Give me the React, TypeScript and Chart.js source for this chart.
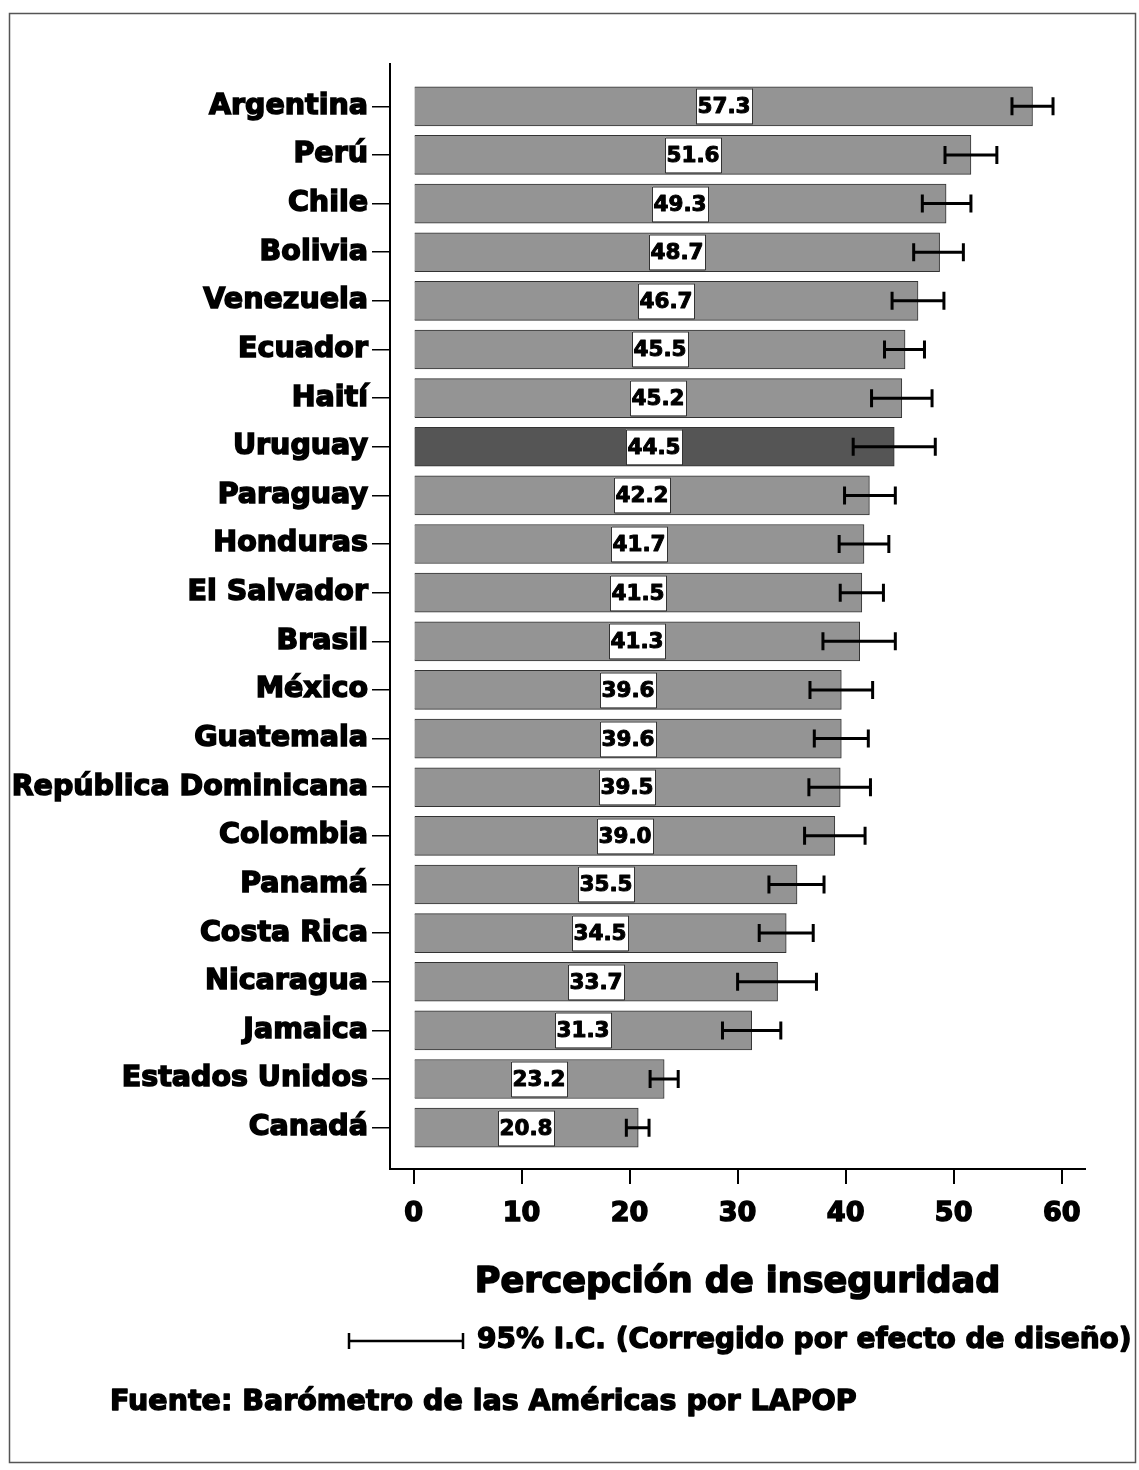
import React, { useEffect, useRef } from 'react';
import { Chart, registerables } from 'chart.js';

Chart.register(...registerables);

// Percepción de inseguridad por país, con intervalos de confianza al 95%
const countries = [
  'Argentina', 'Perú', 'Chile', 'Bolivia', 'Venezuela', 'Ecuador', 'Haití', 'Uruguay',
  'Paraguay', 'Honduras', 'El Salvador', 'Brasil', 'México', 'Guatemala',
  'República Dominicana', 'Colombia', 'Panamá', 'Costa Rica', 'Nicaragua', 'Jamaica',
  'Estados Unidos', 'Canadá',
];
const means = [
  57.3, 51.6, 49.3, 48.7, 46.7, 45.5, 45.2, 44.5, 42.2, 41.7, 41.5, 41.3, 39.6, 39.6,
  39.5, 39.0, 35.5, 34.5, 33.7, 31.3, 23.2, 20.8,
];
const ciLow = [
  55.4, 49.2, 47.1, 46.3, 44.3, 43.6, 42.4, 40.7, 39.9, 39.4, 39.5, 37.9, 36.7, 37.1,
  36.6, 36.2, 32.9, 32.0, 30.0, 28.6, 21.9, 19.7,
];
const ciHigh = [
  59.2, 54.0, 51.6, 50.9, 49.1, 47.3, 48.0, 48.3, 44.6, 44.0, 43.5, 44.6, 42.5, 42.1,
  42.3, 41.8, 38.0, 37.0, 37.3, 34.0, 24.5, 21.8,
];
const xTicks = [0, 10, 20, 30, 40, 50, 60];
const highlighted = 'Uruguay';

const axisTitle = 'Percepción de inseguridad';
const ciNote = '95% I.C. (Corregido por efecto de diseño)';
const sourceNote = 'Fuente: Barómetro de las Américas por LAPOP';

const W = 1139;
const H = 1470;
const HEAVY = '"DejaVu Sans", sans-serif';

// fill and outline together give the heavy, black-weight lettering
function heavyText(ctx: CanvasRenderingContext2D, text: string, x: number, y: number, stroke: number) {
  ctx.lineJoin = 'round';
  ctx.lineWidth = stroke;
  ctx.strokeStyle = '#000000';
  ctx.strokeText(text, x, y);
  ctx.fillText(text, x, y);
}

const annotations = {
  id: 'annotations',
  afterDatasetsDraw(chart: any) {
    const { ctx } = chart;
    const xs = chart.scales.x;
    const ys = chart.scales.y;
    const meta = chart.getDatasetMeta(0);
    ctx.save();
    // value boxes in the middle of each bar
    meta.data.forEach((el: any, i: number) => {
      const cx = Math.round((el.x + el.base) / 2);
      const cy = Math.round(el.y);
      const bw = 56;
      const bh = 35;
      ctx.fillStyle = '#ffffff';
      ctx.fillRect(cx - bw / 2, cy - bh / 2, bw, bh);
      ctx.strokeStyle = '#333333';
      ctx.lineWidth = 1;
      ctx.strokeRect(cx - bw / 2 + 0.5, cy - bh / 2 + 0.5, bw, bh);
      ctx.fillStyle = '#000000';
      ctx.font = `bold 21.5px ${HEAVY}`;
      ctx.textAlign = 'center';
      ctx.textBaseline = 'middle';
      heavyText(ctx, means[i].toFixed(1), cx, cy + 1, 1);
    });
    // confidence interval whiskers
    ctx.strokeStyle = '#000000';
    ctx.lineWidth = 3;
    ctx.lineCap = 'butt';
    countries.forEach((_, i) => {
      const y = ys.getPixelForValue(i);
      const x1 = xs.getPixelForValue(ciLow[i]);
      const x2 = xs.getPixelForValue(ciHigh[i]);
      ctx.beginPath();
      ctx.moveTo(x1, y);
      ctx.lineTo(x2, y);
      ctx.moveTo(x1, y - 9);
      ctx.lineTo(x1, y + 9);
      ctx.moveTo(x2, y - 9);
      ctx.lineTo(x2, y + 9);
      ctx.stroke();
    });
    ctx.restore();
  },
  afterDraw(chart: any) {
    const { ctx } = chart;
    const area = chart.chartArea;
    ctx.save();
    // outer frame
    ctx.strokeStyle = '#555555';
    ctx.lineWidth = 1.5;
    ctx.strokeRect(9.5, 13.5, 1126, 1449);

    ctx.fillStyle = '#000000';
    ctx.textBaseline = 'middle';

    ctx.font = `bold 35px ${HEAVY}`;
    ctx.textAlign = 'center';
    heavyText(ctx, axisTitle, (area.left + area.right) / 2, 1283, 1.6);

    // legend for the whiskers
    ctx.strokeStyle = '#000000';
    ctx.lineWidth = 2.5;
    ctx.beginPath();
    ctx.moveTo(349, 1341);
    ctx.lineTo(463, 1341);
    ctx.moveTo(349, 1333);
    ctx.lineTo(349, 1349);
    ctx.moveTo(463, 1333);
    ctx.lineTo(463, 1349);
    ctx.stroke();

    ctx.textAlign = 'left';
    ctx.font = `bold 28px ${HEAVY}`;
    heavyText(ctx, ciNote, 477, 1341, 1.4);
    ctx.font = `bold 28.5px ${HEAVY}`;
    heavyText(ctx, sourceNote, 110, 1403, 1.4);
    ctx.restore();
  },
};

export default function App() {
  const ref = useRef<HTMLCanvasElement>(null);

  useEffect(() => {
    if (!ref.current) return;
    const chart = new Chart(ref.current, {
      type: 'bar',
      data: {
        datasets: [
          {
            data: means.map((v, i) => ({ x: v, y: i })),
            backgroundColor: countries.map((c) => (c === highlighted ? '#555555' : '#949494')),
            borderColor: '#333333',
            borderWidth: 1,
            barThickness: 39,
          },
        ],
      },
      options: {
        indexAxis: 'y',
        animation: false,
        responsive: false,
        layout: { padding: { top: 64, right: 54, left: 0, bottom: 0 } },
        plugins: { legend: { display: false }, tooltip: { enabled: false } },
        scales: {
          x: {
            type: 'linear',
            min: -2.18,
            max: 62.16,
            afterBuildTicks: (axis: any) => {
              axis.ticks = xTicks.map((v) => ({ value: v }));
            },
            afterFit: (s: any) => {
              s.height = H - 1169;
            },
            border: { display: true, color: '#000000', width: 2 },
            grid: { drawOnChartArea: false, drawTicks: true, tickLength: 15, color: '#000000', lineWidth: 2 },
            ticks: {
              color: '#000000',
              font: { family: HEAVY, size: 27, weight: 'bold' },
              textStrokeColor: '#000000',
              textStrokeWidth: 1.5,
              padding: 14,
              maxRotation: 0,
              callback: (v: any) => String(v),
            },
          },
          y: {
            type: 'linear',
            reverse: true,
            offset: false,
            min: -0.87,
            max: 21.85,
            afterBuildTicks: (axis: any) => {
              axis.ticks = countries.map((_, i) => ({ value: i }));
            },
            afterFit: (s: any) => {
              s.width = 390;
            },
            border: { display: true, color: '#000000', width: 2 },
            grid: {
              offset: false,
              drawOnChartArea: false,
              drawTicks: true,
              tickLength: 18,
              color: '#000000',
              lineWidth: 1.5,
            },
            ticks: {
              color: '#000000',
              autoSkip: false,
              font: { family: HEAVY, size: 28.5, weight: 'bold' },
              textStrokeColor: '#000000',
              textStrokeWidth: 1.5,
              padding: 4,
              callback: (v: any) => countries[v] ?? '',
            },
          },
        },
      },
      plugins: [annotations],
    });
    return () => chart.destroy();
  }, []);

  return (
    <div style={{ position: 'absolute', left: 0, top: 0, width: W, height: H, background: '#ffffff' }}>
      <canvas ref={ref} width={W} height={H} style={{ width: W, height: H, display: 'block' }} />
    </div>
  );
}
